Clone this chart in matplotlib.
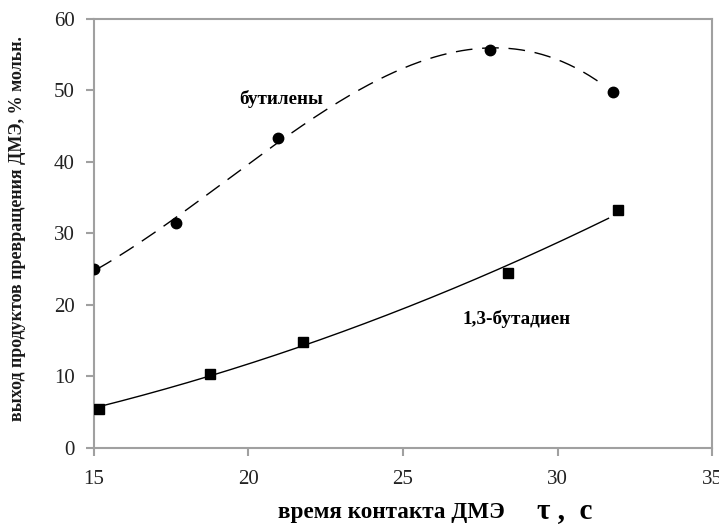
import numpy as np
import matplotlib
matplotlib.use("Agg")
import matplotlib.pyplot as plt

# contact time of DME, s
tau_butylenes = [15.0, 17.65, 20.95, 27.8, 31.8]
butylenes = [25.0, 31.5, 43.3, 55.7, 49.8]

tau_butadiene = [15.15, 18.75, 21.75, 28.4, 31.95]
butadiene = [5.4, 10.3, 14.8, 24.5, 33.3]

xticks = [15, 20, 25, 30, 35]
yticks = [0, 10, 20, 30, 40, 50, 60]

plt.rcParams["font.family"] = ["Liberation Serif", "DejaVu Serif"]

fig = plt.figure(figsize=(7.19, 5.26), dpi=100)
ax = fig.add_axes([0.1307, 0.149, 0.8596, 0.8149])

# polynomial trend lines
xb = np.linspace(min(tau_butylenes) + 0.1, max(tau_butylenes) - 0.45, 300)
pb = np.polyfit(tau_butylenes, butylenes, 3)
ax.plot(xb, np.polyval(pb, xb), color="black", lw=1.0,
        dashes=(12, 7))

xd = np.linspace(min(tau_butadiene), max(tau_butadiene) - 0.3, 300)
pd_ = np.polyfit(tau_butadiene, butadiene, 2)
ax.plot(xd, np.polyval(pd_, xd), color="black", lw=1.0)

ax.plot(tau_butylenes, butylenes, "o", color="black", ms=7.5, zorder=3)
ax.plot(tau_butadiene, butadiene, "s", color="black", ms=7, zorder=3)

ax.text(21.05, 48.8, "бутилены", fontsize=13.8, fontweight="bold",
        ha="center", va="center")
ax.text(28.66, 18.0, "1,3-бутадиен", fontsize=13.8, fontweight="bold",
        ha="center", va="center")

ax.set_xlim(15, 35)
ax.set_ylim(0, 60)
ax.set_xticks(xticks)
ax.set_yticks(yticks)

spine_color = "#a0a0a0"
for s in ax.spines.values():
    s.set_color(spine_color)
    s.set_linewidth(1.5)

ax.tick_params(axis="both", direction="out", length=6, width=1.5,
               color=spine_color, labelsize=15, labelcolor="#222222")
ax.tick_params(axis="x", pad=10)
ax.tick_params(axis="y", pad=8)

fig.text(0.024, 0.565, "выход продуктов превращения ДМЭ, % мольн.",
         rotation=90, fontsize=13, fontweight="bold",
         ha="center", va="center", color="#1a1a1a")
fig.text(0.544, 0.016, "время контакта ДМЭ", fontsize=16.7,
         fontweight="bold", ha="center", va="baseline")
fig.text(0.786, 0.016, "τ ,  c", fontsize=21,
         fontweight="bold", ha="center", va="baseline")

fig.savefig("out.png", dpi=100)
